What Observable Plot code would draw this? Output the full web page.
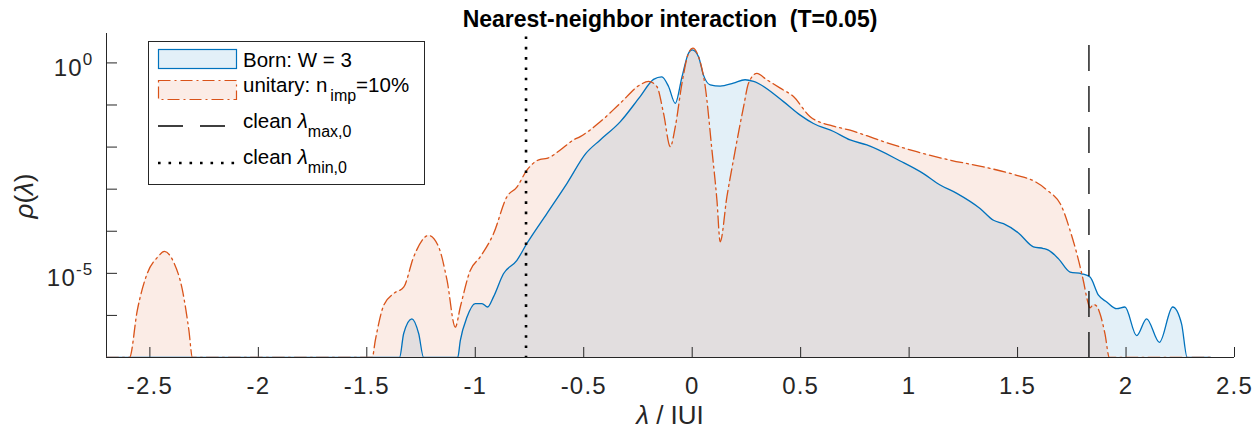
<!DOCTYPE html>
<html><head><meta charset="utf-8">
<script src="https://cdn.jsdelivr.net/npm/d3@7"></script>
<script src="https://cdn.jsdelivr.net/npm/@observablehq/plot@0.6"></script>
<style>html,body{margin:0;padding:0;background:#fff;} svg{display:block;}</style>
</head><body><div id="chart"></div>
<script>
// ---- data (log10 of rho) ----
const bornX = [-2.70, -1.349, -1.330, -1.292, -1.261, -1.238, -1.081, -1.069, -1.038, -1.000, -0.969, -0.943, -0.916, -0.870, -0.808, -0.762, -0.670, -0.577, -0.490, -0.424, -0.332, -0.240, -0.178, -0.140, -0.109, -0.078, -0.047, -0.017, 0.000, 0.029, 0.052, 0.083, 0.129, 0.190, 0.244, 0.283, 0.421, 0.498, 0.559, 0.652, 0.728, 0.805, 0.959, 1.066, 1.143, 1.220, 1.327, 1.389, 1.435, 1.504, 1.573, 1.619, 1.642, 1.688, 1.742, 1.796, 1.834, 1.873, 1.911, 1.957, 1.995, 2.049, 2.095, 2.154, 2.215, 2.256, 2.282, 2.39];
const bornLog10Rho = [-7, -7, -6.43, -6.08, -6.43, -7, -7, -6.60, -6.04, -5.72, -5.72, -5.80, -5.56, -5.01, -4.69, -4.29, -3.58, -2.86, -2.15, -1.83, -1.40, -0.80, -0.39, -0.33, -0.56, -0.96, -0.33, 0.23, 0.31, 0.15, -0.29, -0.52, -0.55, -0.48, -0.40, -0.44, -0.92, -1.24, -1.44, -1.63, -1.83, -1.95, -2.33, -2.63, -2.90, -3.10, -3.46, -3.74, -3.82, -4.04, -4.37, -4.41, -4.45, -4.65, -4.97, -5.01, -5.09, -5.52, -5.68, -5.84, -5.80, -6.48, -6.08, -6.64, -5.80, -6.20, -7, -7];

const unitaryX = [-2.70, -2.594, -2.558, -2.512, -2.465, -2.433, -2.390, -2.350, -2.320, -2.304, -1.475, -1.461, -1.422, -1.376, -1.330, -1.284, -1.215, -1.169, -1.130, -1.092, -1.069, -1.023, -0.977, -0.916, -0.854, -0.808, -0.762, -0.700, -0.670, -0.608, -0.547, -0.516, -0.424, -0.332, -0.240, -0.201, -0.163, -0.132, -0.101, -0.078, -0.047, -0.017, 0.003, 0.029, 0.060, 0.091, 0.114, 0.129, 0.160, 0.190, 0.237, 0.260, 0.298, 0.344, 0.406, 0.467, 0.544, 0.650, 0.728, 0.805, 0.882, 1.035, 1.189, 1.343, 1.496, 1.573, 1.635, 1.704, 1.742, 1.773, 1.803, 1.822, 1.834, 1.850, 1.865, 1.880, 1.903, 1.923, 2.39];
const unitaryLog10Rho = [-7, -7, -5.88, -5.00, -4.62, -4.48, -4.74, -5.40, -6.36, -7, -7, -6.60, -5.76, -5.48, -5.33, -4.61, -4.10, -4.37, -5.17, -6.28, -5.80, -4.93, -4.61, -4.06, -3.18, -2.95, -2.55, -2.29, -2.27, -2.07, -1.83, -1.75, -1.40, -0.96, -0.52, -0.44, -0.56, -1.20, -1.99, -1.52, -0.48, 0.23, 0.35, 0.15, -0.56, -2.07, -3.26, -4.25, -3.18, -2.31, -1.04, -0.48, -0.25, -0.40, -0.60, -0.80, -1.28, -1.50, -1.60, -1.73, -1.87, -2.11, -2.31, -2.47, -2.67, -2.80, -3.02, -3.42, -3.98, -4.53, -5.17, -5.64, -5.82, -5.74, -5.78, -5.96, -6.44, -7, -7];

const lambdaMax0 = 1.829;
const lambdaMin0 = -0.766;

const xTicks = [-2.5, -2, -1.5, -1, -0.5, 0, 0.5, 1, 1.5, 2, 2.5];
const yTicks = [1e-7, 1e-6, 1e-5, 1e-4, 1e-3, 1e-2, 1e-1, 1];
const yLabelTicks = [1, 1e-5];
const xDomain = [-2.7, 2.5];
const yDomain = [1e-7, 5];

const titleText = "Nearest-neighbor interaction  (T=0.05)";
const legendLabels = ["Born: W = 3", "unitary: n", "imp", "=10%", "clean ", "max,0", "min,0"];

// ---- build tables ----
const born = bornX.map((x, i) => ({x, rho: Math.pow(10, bornLog10Rho[i])}));
const unitary = unitaryX.map((x, i) => ({x, rho: Math.pow(10, unitaryLog10Rho[i])}));

const FONT = "'Liberation Sans', Arial, Helvetica, sans-serif";
const BLUE = "#0072BD", ORANGE = "#D95319", AX = "#262626";
const FILL_OP = 0.11;
const W = 1260, H = 433, ML = 106, MR = 26, MT = 33, MB = 76;
const frameW = W - ML - MR, frameH = H - MT - MB;

const svgEl = Plot.plot({
  width: W, height: H,
  marginLeft: ML, marginRight: MR, marginTop: MT, marginBottom: MB,
  style: {fontFamily: FONT, fontSize: "24px", color: AX, background: "#fff", overflow: "visible"},
  x: {domain: xDomain, label: null},
  y: {type: "log", domain: yDomain, label: null},
  marks: [
    Plot.areaY(born, {x: "x", y1: yDomain[0], y2: "rho", fill: BLUE, fillOpacity: FILL_OP, curve: "monotone-x", clip: true}),
    Plot.areaY(unitary, {x: "x", y1: yDomain[0], y2: "rho", fill: ORANGE, fillOpacity: FILL_OP, curve: "monotone-x", clip: true}),
    Plot.ruleX([xDomain[0]], {stroke: AX, strokeWidth: 1}),
    Plot.ruleY([yDomain[0]], {stroke: AX, strokeWidth: 1}),
    Plot.tickX(xTicks, {x: d => d, insetTop: frameH - 10, stroke: AX, strokeWidth: 1}),
    Plot.tickY(yTicks, {y: d => d, insetRight: frameW - 11, stroke: AX, strokeWidth: 1}),
    Plot.lineY(born, {x: "x", y: "rho", stroke: BLUE, strokeWidth: 1.3, curve: "monotone-x", clip: true}),
    Plot.lineY(unitary, {x: "x", y: "rho", stroke: ORANGE, strokeWidth: 1.3, strokeDasharray: "12,4,2,4", curve: "monotone-x", clip: true}),
    Plot.ruleX([lambdaMin0], {stroke: "#000", strokeWidth: 2.6, strokeDasharray: "2.6,7.7", strokeDashoffset: 6.8}),
    Plot.ruleX([lambdaMax0], {stroke: "#000", strokeWidth: 1.3, strokeDasharray: "26,15", strokeDashoffset: 29}),
    Plot.axisX({ticks: xTicks, tickSize: 0, tickPadding: 19, tickFormat: d => String(d), fill: AX, label: null}),
    Plot.axisY({ticks: yLabelTicks, tickSize: 0, tickPadding: 13, tickFormat: d => String(Math.round(Math.log10(d))), fill: AX, dy: 5, label: null})
  ]
});
document.getElementById("chart").appendChild(svgEl);

// tick label font
svgEl.querySelectorAll('g[aria-label="x-axis tick label"], g[aria-label="y-axis tick label"]').forEach(g => {
  g.style.fontSize = "24px";
  g.style.fontFamily = FONT;
  g.style.letterSpacing = "1.2px";
});

// superscript tick labels 10^n
svgEl.querySelectorAll('g[aria-label="y-axis tick label"] text').forEach(t => {
  const e = t.textContent;
  t.textContent = "";
  const ns = "http://www.w3.org/2000/svg";
  const a = document.createElementNS(ns, "tspan"); a.textContent = "10"; t.appendChild(a);
  const b = document.createElementNS(ns, "tspan"); b.textContent = e;
  b.setAttribute("font-size", "17"); b.style.fontSize = "17px"; b.setAttribute("dy", "-11"); t.appendChild(b);
});

const svg = d3.select(svgEl);
// title
svg.append("text").attr("x", ML + frameW / 2).attr("y", 27).attr("text-anchor", "middle")
  .attr("font-family", FONT).attr("font-size", 23).attr("font-weight", "bold").attr("fill", "#000")
  .text(titleText);
// x label
const xl = svg.append("text").attr("x", ML + frameW / 2).attr("y", 424).attr("text-anchor", "middle")
  .attr("font-family", FONT).attr("font-size", 26).attr("fill", AX);
xl.append("tspan").attr("font-style", "italic").text("λ");
xl.append("tspan").text(" / IUI");
// y label
const yl = svg.append("text").attr("transform", "translate(33,196) rotate(-90)").attr("text-anchor", "middle")
  .attr("font-family", FONT).attr("font-size", 26).attr("fill", AX);
yl.append("tspan").attr("font-style", "italic").text("ρ");
yl.append("tspan").text("(");
yl.append("tspan").attr("font-style", "italic").text("λ");
yl.append("tspan").text(")");

// legend
const lg = svg.append("g").attr("font-family", FONT).attr("font-size", 20.5).attr("fill", "#000")
  .attr("text-anchor", "start");
lg.append("rect").attr("x", 148.5).attr("y", 41.5).attr("width", 276).attr("height", 143)
  .attr("fill", "#fff").attr("stroke", AX).attr("stroke-width", 1);
lg.append("rect").attr("x", 158.5).attr("y", 49.5).attr("width", 78).attr("height", 19)
  .attr("fill", BLUE).attr("fill-opacity", FILL_OP).attr("stroke", BLUE).attr("stroke-width", 1.2);
lg.append("rect").attr("x", 158.5).attr("y", 80.5).attr("width", 78).attr("height", 19)
  .attr("fill", ORANGE).attr("fill-opacity", FILL_OP).attr("stroke", ORANGE).attr("stroke-width", 1.2)
  .attr("stroke-dasharray", "12,4,2,4");
lg.append("line").attr("x1", 158).attr("x2", 225).attr("y1", 126).attr("y2", 126)
  .attr("stroke", "#000").attr("stroke-width", 1.3).attr("stroke-dasharray", "25,17");
lg.append("line").attr("x1", 158).attr("x2", 236).attr("y1", 163).attr("y2", 163)
  .attr("stroke", "#000").attr("stroke-width", 2.6).attr("stroke-dasharray", "2.6,7.9");
const tx = 243;
lg.append("text").attr("x", tx).attr("y", 67).text(legendLabels[0]);
const t2 = lg.append("text").attr("x", tx).attr("y", 92);
t2.append("tspan").text(legendLabels[1]);
t2.append("tspan").attr("font-size", 16).attr("dy", 9).attr("dx", 3).text(legendLabels[2]);
t2.append("tspan").attr("dy", -9).text(legendLabels[3]);
const t3 = lg.append("text").attr("x", tx).attr("y", 128);
t3.append("tspan").text(legendLabels[4]);
t3.append("tspan").attr("font-style", "italic").text("λ");
t3.append("tspan").attr("font-size", 16).attr("dy", 9).text(legendLabels[5]);
const t4 = lg.append("text").attr("x", tx).attr("y", 164);
t4.append("tspan").text(legendLabels[4]);
t4.append("tspan").attr("font-style", "italic").text("λ");
t4.append("tspan").attr("font-size", 16).attr("dy", 9).text(legendLabels[6]);
</script>
</body></html>
